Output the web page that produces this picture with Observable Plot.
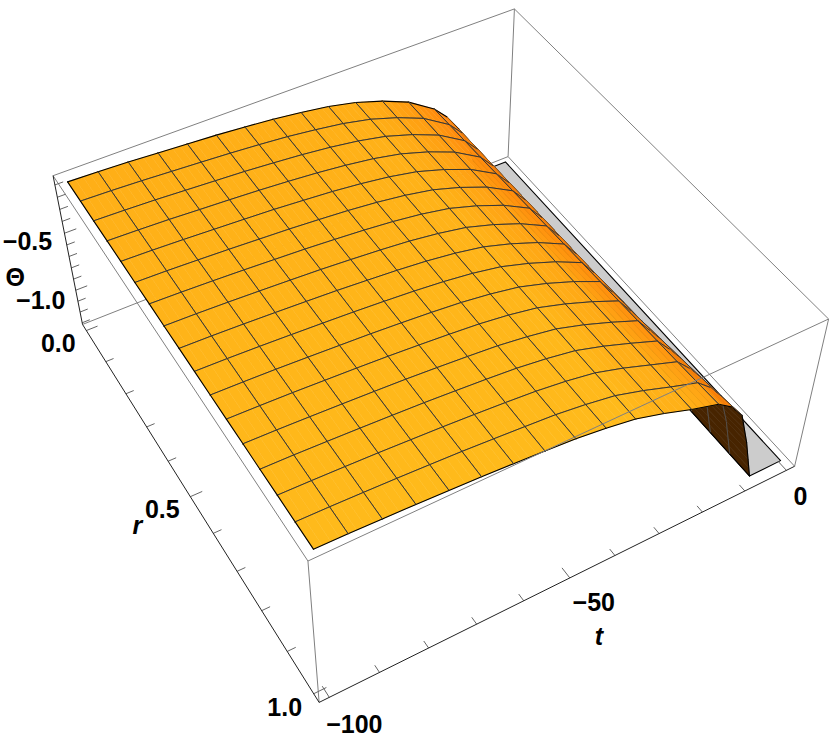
<!DOCTYPE html>
<html>
<head>
<meta charset="utf-8">
<script src="https://cdn.jsdelivr.net/npm/d3@7"></script>
<script src="https://cdn.jsdelivr.net/npm/@observablehq/plot@0.6"></script>
<style>html,body{margin:0;padding:0;background:#fff}svg{display:block}</style>
</head>
<body>
<div id="chart"></div>
<script>
// ---- data: Θ(t, r) ----
const tNodes = [-100,-93.75,-87.5,-81.25,-75,-68.75,-62.5,-56.25,-50,-43.75,-37.5,-31.25,-25,-18.75,-15.6,-12.5,-10,-7.5];
const rNodes = [0,.0625,.125,.1875,.25,.3125,.375,.4375,.5,.5625,.625,.6875,.75,.8125,.875,.9375,1];
const thetaRows = [
 [-.055,-.054,-.054,-.053,-.052,-.052,-.051,-.051,-.050,-.049,-.049,-.048,-.047,-.047,-.046,-.046,-.045],
 [-.062,-.061,-.061,-.060,-.059,-.058,-.058,-.057,-.056,-.055,-.055,-.054,-.053,-.052,-.052,-.051,-.050],
 [-.072,-.071,-.070,-.069,-.069,-.068,-.067,-.066,-.065,-.064,-.063,-.062,-.062,-.061,-.060,-.059,-.058],
 [-.085,-.084,-.083,-.082,-.081,-.079,-.078,-.077,-.076,-.075,-.074,-.073,-.072,-.071,-.069,-.068,-.067],
 [-.098,-.097,-.096,-.094,-.093,-.092,-.091,-.089,-.088,-.087,-.086,-.084,-.083,-.082,-.081,-.079,-.078],
 [-.112,-.111,-.109,-.108,-.106,-.105,-.104,-.102,-.101,-.100,-.098,-.097,-.095,-.094,-.093,-.091,-.090],
 [-.130,-.128,-.127,-.125,-.124,-.122,-.121,-.119,-.118,-.116,-.114,-.113,-.111,-.110,-.108,-.107,-.105],
 [-.150,-.148,-.147,-.145,-.143,-.141,-.140,-.138,-.136,-.134,-.132,-.131,-.129,-.127,-.125,-.124,-.122],
 [-.178,-.176,-.173,-.171,-.169,-.166,-.164,-.161,-.159,-.157,-.154,-.152,-.149,-.147,-.145,-.142,-.140],
 [-.212,-.209,-.207,-.204,-.202,-.199,-.196,-.194,-.191,-.188,-.186,-.183,-.181,-.178,-.175,-.173,-.170],
 [-.260,-.257,-.254,-.251,-.248,-.244,-.241,-.238,-.235,-.232,-.229,-.226,-.222,-.219,-.216,-.213,-.210],
 [-.330,-.327,-.324,-.321,-.318,-.314,-.311,-.308,-.305,-.302,-.299,-.296,-.292,-.289,-.286,-.283,-.280],
 [-.420,-.416,-.413,-.409,-.405,-.401,-.398,-.394,-.390,-.386,-.383,-.379,-.375,-.371,-.368,-.364,-.360],
 [-.560,-.552,-.545,-.538,-.530,-.522,-.514,-.506,-.498,-.490,-.482,-.474,-.466,-.458,-.450,-.440,-.430],
 [-.670,-.665,-.660,-.655,-.650,-.645,-.640,-.635,-.630,-.625,-.620,-.610,-.600,-.580,-.560,-.535,-.510],
 [-.820,-.815,-.810,-.805,-.800,-.795,-.790,-.785,-.780,-.770,-.760,-.750,-.730,-.710,-.690,-.665,-.640],
 [-.990,-.990,-.985,-.985,-.980,-.980,-.975,-.975,-.970,-.970,-.965,-.960,-.955,-.950,-.945,-.935,-.930],
 [-1.29,-1.29,-1.29,-1.29,-1.29,-1.29,-1.29,-1.29,-1.29,-1.29,-1.29,-1.29,-1.29,-1.29,-1.29,-1.29,-1.29]
];
const thetaClip = -1.29;
const tTicks = [-100,-90,-80,-70,-60,-50,-40,-30,-20,-10,0];
const tMajor = [-100,-50,0];
const rTicks = [0,.1,.2,.3,.4,.5,.6,.7,.8,.9,1];
const rMajor = [0,.5,1];
const thetaTicks = [-.1,-.2,-.3,-.4,-.5,-.6,-.7,-.8,-.9,-1,-1.1,-1.2,-1.3];
const thetaMajor = [-.5,-1];

// ---- the box of the 3D plot and its view ----
const tLo=-102,tHi=2,rLo=-.02,rHi=1.02,zLo=-1.316,zHi=-.026;
const view = [ // box corner [t,r,Θ] and where the camera sees it
 [[tLo,rLo,zLo],[81.7,323]],[[tHi,rLo,zLo],[507.7,156.7]],
 [[tLo,rHi,zLo],[319,702]],[[tHi,rHi,zLo],[794,466]],
 [[tLo,rLo,zHi],[52.7,176]],[[tHi,rLo,zHi],[514,8]],
 [[tLo,rHi,zHi],[307.3,560.7]],[[tHi,rHi,zHi],[828,318]]
];
const norm = ([t,r,z]) => [(t-tLo)/(tHi-tLo),(r-rLo)/(rHi-rLo),(z-zLo)/(zHi-zLo)];
function solveCamera(){
  const A=[],b=[];
  for(const [p,[X,Y]] of view){
    const [u,v,w]=norm(p), x=X/800, y=Y/800;
    A.push([u,v,w,1,0,0,0,0,-x*u,-x*v,-x*w]); b.push(x);
    A.push([0,0,0,0,u,v,w,1,-y*u,-y*v,-y*w]); b.push(y);
  }
  const n=11, M=[];
  for(let i=0;i<n;i++){
    M.push([]);
    for(let j=0;j<n;j++) M[i].push(d3.sum(A,r=>r[i]*r[j]));
    M[i].push(d3.sum(A,(r,k)=>r[i]*b[k]));
  }
  for(let c=0;c<n;c++){
    let p=c; for(let i=c+1;i<n;i++) if(Math.abs(M[i][c])>Math.abs(M[p][c])) p=i;
    [M[c],M[p]]=[M[p],M[c]];
    for(let i=0;i<n;i++) if(i!==c){
      const f=M[i][c]/M[c][c];
      for(let j=c;j<=n;j++) M[i][j]-=f*M[c][j];
    }
  }
  return M.map((r,i)=>r[n]/r[i]);
}
const cam = solveCamera();
function project(t,r,z){
  const [u,v,w]=norm([t,r,z]);
  const d=cam[8]*u+cam[9]*v+cam[10]*w+1;
  return [800*(cam[0]*u+cam[1]*v+cam[2]*w+cam[3])/d, 800*(cam[4]*u+cam[5]*v+cam[6]*w+cam[7])/d];
}

// ---- surface cells, painted far to near ----
const colFlatFar=d3.rgb("#FFAF17"), colFlatNear=d3.rgb("#FFBA1B"), colSteep=d3.rgb("#FF840A");
const underside="#472400", meshLine="#363636", meshUnder="#544d47", edge="#000000";
const slope=(i,j)=>{
  const a=Math.max(i-1,0), b=Math.min(i+1,tNodes.length-1);
  return -(thetaRows[b][j]-thetaRows[a][j])/(tNodes[b]-tNodes[a]);
};
function shade(s,r){
  const flat=d3.interpolateRgb(colFlatFar,colFlatNear)(r);
  const m=Math.max(0,Math.min(1,(s-.009)/.02));
  return d3.interpolateRgb(flat,colSteep)(m);
}
const isMeshT=t=>Number.isInteger((t+100)/6.25);
const shapes=[]; let uid=0;
function shape(pts,fill,stroke,sw){
  const id=uid++;
  for(const [x,y] of pts) shapes.push({id,x,y,fill,stroke,sw});
}
const area=q=>d3.polygonArea(q);
const tLast=tNodes[tNodes.length-1];
shape([[tLast,0],[0,0],[0,1],[tLast,1],[tLast,0]].map(([t,r])=>project(t,r,thetaClip)),"#CCCCCC","#000000",1.1);
const sub=4;
const refSign=Math.sign(area([
  project(tNodes[0],rNodes[0],thetaRows[0][0]),project(tNodes[1],rNodes[0],thetaRows[1][0]),
  project(tNodes[1],rNodes[1],thetaRows[1][1]),project(tNodes[0],rNodes[1],thetaRows[0][1])]));
for(let i=tNodes.length-2;i>=0;i--){
  for(let j=0;j<rNodes.length-1;j++){
    const rA=rNodes[j], rB=rNodes[j+1], tA=tNodes[i], tB=tNodes[i+1];
    const rM=(rA+rB)/2;
    const at=(f,k)=>thetaRows[i][k]*(1-f)+thetaRows[i+1][k]*f;
    let back=false;
    for(let n=sub-1;n>=0;n--){
      const f0=n/sub,f1=(n+1)/sub, t0=tA+(tB-tA)*f0, t1=tA+(tB-tA)*f1;
      const q=[project(t0,rA,at(f0,j)),project(t1,rA,at(f1,j)),project(t1,rB,at(f1,j+1)),project(t0,rB,at(f0,j+1))];
      const isBack=Math.sign(area(q))!==refSign;
      back=back||isBack;
      const fm=(f0+f1)/2;
      const s=(slope(i,j)*(1-fm)+slope(i+1,j)*fm);
      const c=isBack?underside:shade(s,rM);
      shape([...q,q[0]],c,c,.5);
    }
    const lineCol=back?meshUnder:meshLine;
    const rEdge=(k,r)=>[project(tA,r,thetaRows[i][k]),project(tB,r,thetaRows[i+1][k])];
    const tEdge=(c)=>[project(tNodes[c],rA,thetaRows[c][j]),project(tNodes[c],rB,thetaRows[c][j+1])];
    shape(rEdge(j,rA),"none",j===0?edge:lineCol,j===0?1.1:1);
    shape(rEdge(j+1,rB),"none",j+1===rNodes.length-1?edge:lineCol,j+1===rNodes.length-1?1.1:1);
    if(i===0) shape(tEdge(0),"none",edge,1.1);
    else if(isMeshT(tA)) shape(tEdge(i),"none",lineCol,1);
    if(i+1===tNodes.length-1) shape(tEdge(i+1),"none",edge,1.1);
    else if(isMeshT(tB)) shape(tEdge(i+1),"none",lineCol,1);
  }
}

// ---- box edges, axes, ticks, labels ----
const seg=(a,b)=>{const p=project(...a),q=project(...b);return {x1:p[0],y1:p[1],x2:q[0],y2:q[1]};};
const backEdges=[
 seg([tLo,rLo,zHi],[tHi,rLo,zHi]),seg([tHi,rLo,zHi],[tHi,rHi,zHi]),
 seg([tHi,rLo,zHi],[tHi,rLo,zLo]),seg([tLo,rLo,zLo],[tHi,rLo,zLo]),seg([tHi,rLo,zLo],[tHi,rHi,zLo])
];
const frontEdges=[
 seg([tLo,rLo,zHi],[tLo,rHi,zHi]),seg([tLo,rHi,zHi],[tHi,rHi,zHi]),
 seg([tLo,rHi,zHi],[tLo,rHi,zLo]),seg([tHi,rHi,zHi],[tHi,rHi,zLo])
];
const axisEdges=[
 seg([tLo,rLo,zHi],[tLo,rLo,zLo]),seg([tLo,rLo,zLo],[tLo,rHi,zLo]),seg([tLo,rHi,zLo],[tHi,rHi,zLo])
];
const tickLinks=[
 ...tTicks.map(t=>seg([t,rHi,zLo],[t,rHi-(tMajor.includes(t)?.026:.017),zLo])),
 ...rTicks.map(r=>seg([tLo,r,zLo],[tLo+(rMajor.includes(r)?2.5:1.7),r,zLo])),
 ...thetaTicks.map(z=>seg([tLo,rLo,z],[tLo+(thetaMajor.includes(z)?2.5:1.7),rLo,z]))
];
const tLabels=[["\u2212100",-100,25,28],["\u221250",-50,24,25],["0",0,14,27]];
const rLabels=[["0.0",0,-28,13],["0.5",.5,-28,13],["1.0",1,-29,14]];
const thetaLabels=[["\u22120.5",-.5,-37,9],["\u22121.0",-1,-35,11]];
const place=(p,dx,dy,text,style)=>{const q=project(...p);return {x:q[0]+dx,y:q[1]+dy,text,style};};
const labels=[
 ...tLabels.map(([s,t,dx,dy])=>place([t,rHi,zLo],dx,dy,s,"normal")),
 ...rLabels.map(([s,r,dx,dy])=>place([tLo,r,zLo],dx,dy,s,"normal")),
 ...thetaLabels.map(([s,z,dx,dy])=>place([tLo,rLo,z],dx,dy,s,"normal")),
 place([tLo,rLo,-.75],-55,16,"\u0398","normal")
];
const italics=[
 place([tLo,.5,zLo],-53,29,"r","italic"),
 place([-50,rHi,zLo],29,59,"t","italic")
];
const font={fontFamily:"Liberation Sans, Arial, sans-serif",fontWeight:"bold",fontSize:25,fill:"#000"};

const chart=Plot.plot({
  width:830,height:750,margin:0,
  x:{domain:[0,830],range:[0,830],axis:null},
  y:{domain:[0,750],range:[0,750],axis:null},
  color:{type:"identity"},
  marks:[
    Plot.link(backEdges,{x1:"x1",y1:"y1",x2:"x2",y2:"y2",stroke:"#808080",strokeWidth:1}),
    Plot.line(shapes,{x:"x",y:"y",z:"id",fill:"fill",stroke:"stroke",strokeWidth:"sw",curve:"linear"}),
    Plot.link(frontEdges,{x1:"x1",y1:"y1",x2:"x2",y2:"y2",stroke:"#808080",strokeWidth:1}),
    Plot.link(tickLinks,{x1:"x1",y1:"y1",x2:"x2",y2:"y2",stroke:"#666",strokeWidth:1}),
    Plot.link(axisEdges,{x1:"x1",y1:"y1",x2:"x2",y2:"y2",stroke:"#222",strokeWidth:1}),
    Plot.text(labels,{x:"x",y:"y",text:"text",...font}),
    Plot.text(italics,{x:"x",y:"y",text:"text",fontStyle:"italic",...font})
  ]
});
document.getElementById("chart").appendChild(chart);
</script>
</body>
</html>
